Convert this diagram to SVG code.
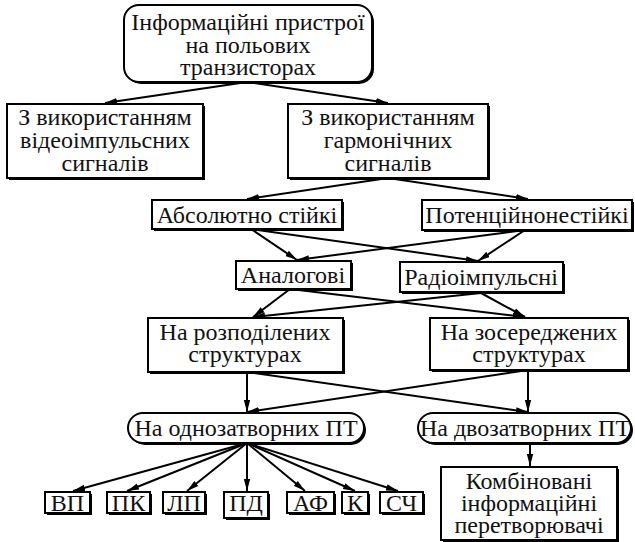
<svg xmlns="http://www.w3.org/2000/svg" width="635" height="542" viewBox="0 0 635 542">
<defs>
<marker id="ah" markerUnits="userSpaceOnUse" markerWidth="14" markerHeight="10" refX="12" refY="4" orient="auto">
<path d="M0,0.8 L12,4 L0,7.2 Z" fill="#000"/>
</marker>
<style>
.b{fill:#fff;stroke:#000;stroke-width:2}
.s{fill:#000}
.c{stroke:#000;stroke-width:2;fill:none;marker-end:url(#ah)}
</style>
</defs>
<rect width="635" height="542" fill="#fff"/>

<g id="connectors">
<line class="c" x1="247" y1="82" x2="105" y2="103"/>
<line class="c" x1="247" y1="82" x2="388" y2="103"/>
<line class="c" x1="388" y1="178" x2="247" y2="199"/>
<line class="c" x1="388" y1="178" x2="528" y2="199"/>
<line class="c" x1="251" y1="229" x2="297" y2="260"/>
<line class="c" x1="251" y1="229" x2="478" y2="261"/>
<line class="c" x1="525" y1="230" x2="297" y2="260"/>
<line class="c" x1="525" y1="230" x2="478" y2="261"/>
<line class="c" x1="290" y1="289" x2="253" y2="317"/>
<line class="c" x1="290" y1="289" x2="525" y2="317"/>
<line class="c" x1="481" y1="293" x2="253" y2="317"/>
<line class="c" x1="481" y1="293" x2="525" y2="317"/>
<line class="c" x1="247" y1="372" x2="247" y2="412"/>
<line class="c" x1="247" y1="372" x2="528" y2="412"/>
<line class="c" x1="528" y1="370" x2="528" y2="412"/>
<line class="c" x1="528" y1="370" x2="247" y2="412"/>
<line class="c" x1="247" y1="443" x2="73" y2="491"/>
<line class="c" x1="247" y1="443" x2="127" y2="491"/>
<line class="c" x1="247" y1="443" x2="187" y2="491"/>
<line class="c" x1="247" y1="443" x2="247" y2="491"/>
<line class="c" x1="247" y1="443" x2="305" y2="491"/>
<line class="c" x1="247" y1="443" x2="355" y2="491"/>
<line class="c" x1="247" y1="443" x2="398" y2="491"/>
<line class="c" x1="530" y1="443" x2="530" y2="466"/>
</g>

<g id="n-top">
<rect class="s" x="126" y="7" width="248" height="77" rx="15"/>
<rect class="b" x="124" y="5" width="248" height="77" rx="15"/>
<text x="248" y="30" font-family="Liberation Serif" font-size="24" fill="#111" text-anchor="middle">Інформаційні пристрої</text>
<text x="248" y="53" font-family="Liberation Serif" font-size="24" fill="#111" text-anchor="middle">на польових</text>
<text x="248" y="75" font-family="Liberation Serif" font-size="24" fill="#111" text-anchor="middle">транзисторах</text>
</g>

<g id="n-video">
<rect class="s" x="9" y="106" width="196" height="74"/>
<rect class="b" x="7" y="104" width="196" height="74"/>
<text x="105" y="125" font-family="Liberation Serif" font-size="24" fill="#111" text-anchor="middle">З використанням</text>
<text x="105" y="148" font-family="Liberation Serif" font-size="24" fill="#111" text-anchor="middle">відеоімпульсних</text>
<text x="105" y="171" font-family="Liberation Serif" font-size="24" fill="#111" text-anchor="middle">сигналів</text>
</g>

<g id="n-harm">
<rect class="s" x="290" y="106" width="200" height="74"/>
<rect class="b" x="288" y="104" width="200" height="74"/>
<text x="388" y="125" font-family="Liberation Serif" font-size="24" fill="#111" text-anchor="middle">З використанням</text>
<text x="388" y="148" font-family="Liberation Serif" font-size="24" fill="#111" text-anchor="middle">гармонічних</text>
<text x="388" y="171" font-family="Liberation Serif" font-size="24" fill="#111" text-anchor="middle">сигналів</text>
</g>

<g id="n-abs">
<rect class="s" x="154" y="202" width="190" height="29"/>
<rect class="b" x="152" y="200" width="190" height="29"/>
<text x="247" y="223" font-family="Liberation Serif" font-size="24" fill="#111" text-anchor="middle">Абсолютно стійкі</text>
</g>

<g id="n-pot">
<rect class="s" x="424" y="202" width="210" height="30"/>
<rect class="b" x="422" y="200" width="210" height="30"/>
<text x="527" y="223" font-family="Liberation Serif" font-size="24" fill="#111" text-anchor="middle">Потенційнонестійкі</text>
</g>

<g id="n-anal">
<rect class="s" x="238" y="263" width="115" height="28"/>
<rect class="b" x="236" y="261" width="115" height="28"/>
<text x="293" y="283" font-family="Liberation Serif" font-size="24" fill="#111" text-anchor="middle">Аналогові</text>
</g>

<g id="n-radio">
<rect class="s" x="402" y="264" width="163" height="30"/>
<rect class="b" x="400" y="262" width="163" height="30"/>
<text x="481" y="285" font-family="Liberation Serif" font-size="24" fill="#111" text-anchor="middle">Радіоімпульсні</text>
</g>

<g id="n-rozp">
<rect class="s" x="150" y="320" width="195" height="54"/>
<rect class="b" x="148" y="318" width="195" height="54"/>
<text x="245" y="340" font-family="Liberation Serif" font-size="24" fill="#111" text-anchor="middle">На розподілених</text>
<text x="245" y="362" font-family="Liberation Serif" font-size="24" fill="#111" text-anchor="middle">структурах</text>
</g>

<g id="n-zos">
<rect class="s" x="432" y="320" width="198" height="52"/>
<rect class="b" x="430" y="318" width="198" height="52"/>
<text x="529" y="340" font-family="Liberation Serif" font-size="24" fill="#111" text-anchor="middle">На зосереджених</text>
<text x="529" y="362" font-family="Liberation Serif" font-size="24" fill="#111" text-anchor="middle">структурах</text>
</g>

<g id="n-odno">
<rect class="s" x="130" y="415" width="236" height="30" rx="15"/>
<rect class="b" x="128" y="413" width="236" height="30" rx="15"/>
<text x="246" y="436" font-family="Liberation Serif" font-size="24" fill="#111" text-anchor="middle">На однозатворних ПТ</text>
</g>

<g id="n-dvo">
<rect class="s" x="420" y="415" width="213" height="30" rx="15"/>
<rect class="b" x="418" y="413" width="213" height="30" rx="15"/>
<text x="525" y="436" font-family="Liberation Serif" font-size="24" fill="#111" text-anchor="middle">На двозатворних ПТ</text>
</g>

<g id="n-vp">
<rect class="s" x="47" y="494" width="45" height="21"/>
<rect class="b" x="45" y="492" width="45" height="21"/>
<text x="67.5" y="511" font-family="Liberation Serif" font-size="24" fill="#111" text-anchor="middle">ВП</text>
</g>
<g id="n-pk">
<rect class="s" x="109" y="494" width="43" height="21"/>
<rect class="b" x="107" y="492" width="43" height="21"/>
<text x="128.5" y="511" font-family="Liberation Serif" font-size="24" fill="#111" text-anchor="middle">ПК</text>
</g>
<g id="n-lp">
<rect class="s" x="165" y="494" width="42" height="21"/>
<rect class="b" x="163" y="492" width="42" height="21"/>
<text x="184" y="511" font-family="Liberation Serif" font-size="24" fill="#111" text-anchor="middle">ЛП</text>
</g>
<g id="n-pd">
<rect class="s" x="226" y="494" width="44" height="26"/>
<rect class="b" x="224" y="492" width="44" height="26"/>
<text x="246" y="511" font-family="Liberation Serif" font-size="24" fill="#111" text-anchor="middle">ПД</text>
</g>
<g id="n-af">
<rect class="s" x="289" y="494" width="47" height="21"/>
<rect class="b" x="287" y="492" width="47" height="21"/>
<text x="310.5" y="511" font-family="Liberation Serif" font-size="24" fill="#111" text-anchor="middle">АФ</text>
</g>
<g id="n-k">
<rect class="s" x="344" y="494" width="26" height="21"/>
<rect class="b" x="342" y="492" width="26" height="21"/>
<text x="355" y="511" font-family="Liberation Serif" font-size="24" fill="#111" text-anchor="middle">К</text>
</g>
<g id="n-sch">
<rect class="s" x="382" y="494" width="43" height="21"/>
<rect class="b" x="380" y="492" width="43" height="21"/>
<text x="401.5" y="511" font-family="Liberation Serif" font-size="24" fill="#111" text-anchor="middle">СЧ</text>
</g>

<g id="n-komb">
<rect class="s" x="443" y="469" width="176" height="73"/>
<rect class="b" x="441" y="467" width="176" height="73"/>
<text x="529" y="489" font-family="Liberation Serif" font-size="24" fill="#111" text-anchor="middle">Комбіновані</text>
<text x="529" y="511" font-family="Liberation Serif" font-size="24" fill="#111" text-anchor="middle">інформаційні</text>
<text x="529" y="533" font-family="Liberation Serif" font-size="24" fill="#111" text-anchor="middle">перетворювачі</text>
</g>
</svg>
